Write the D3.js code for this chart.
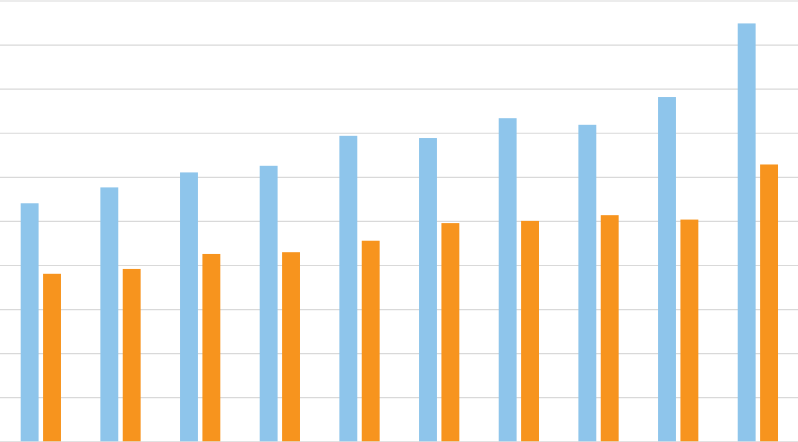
<!DOCTYPE html>
<html>
<head>
<meta charset="utf-8">
<script src="https://cdn.jsdelivr.net/npm/d3@7"></script>
<style>
  body { margin: 0; background: #fff; }
  svg { display: block; }
</style>
</head>
<body>
<div id="chart"></div>
<script>
// values, in gridline units
let categories = ["1", "2", "3", "4", "5", "6", "7", "8", "9", "10"]
let series = ["blue", "orange"]
let blueValues = [5.40, 5.76, 6.10, 6.25, 6.93, 6.88, 7.33, 7.18, 7.81, 9.48]
let orangeValues = [3.80, 3.91, 4.25, 4.29, 4.55, 4.95, 5.00, 5.13, 5.03, 6.28]
let yTicks = [0, 1, 2, 3, 4, 5, 6, 7, 8, 9, 10]

let width = 798, height = 442

let svg = d3.select('#chart').append('svg')
    .attr('width', width)
    .attr('height', height)

let data = categories.map(function (c, i) {
    return { cat: c, blue: blueValues[i], orange: orangeValues[i] }
})

let y = d3.scaleLinear()
    .domain([0, 10])
    .range([441.3, 0.5])

let x0 = d3.scaleBand()
    .domain(categories)
    .range([1, 797.7])
    .padding(0)

let x1 = d3.scaleBand()
    .domain(series)
    .range([0, x0.bandwidth()])
    .paddingInner(0.2)
    .paddingOuter(0.88)

let color = d3.scaleOrdinal()
    .domain(series)
    .range(['#8ec5eb', '#f7941e'])

// gridlines
let grid = svg.append('g')
    .attr('transform', 'translate(0,0)')
    .call(d3.axisLeft(y).tickValues(yTicks).tickSize(-width).tickFormat(''))
grid.select('.domain').remove()
grid.selectAll('.tick line')
    .attr('stroke', '#d9d9d9')
    .attr('stroke-width', 1.2)

// bars
let groups = svg.selectAll('.group')
    .data(data)
    .enter()
    .append('g')
    .attr('transform', function (d) {
        return 'translate(' + x0(d.cat) + ',0)'
    })

groups.selectAll('rect')
    .data(function (d) {
        return series.map(function (s) { return { key: s, value: d[s] } })
    })
    .enter()
    .append('rect')
    .attr('x', function (d) { return x1(d.key) })
    .attr('y', function (d) { return y(d.value) })
    .attr('width', x1.bandwidth())
    .attr('height', function (d) { return y(0) - y(d.value) })
    .attr('fill', function (d) { return color(d.key) })
</script>
</body>
</html>
